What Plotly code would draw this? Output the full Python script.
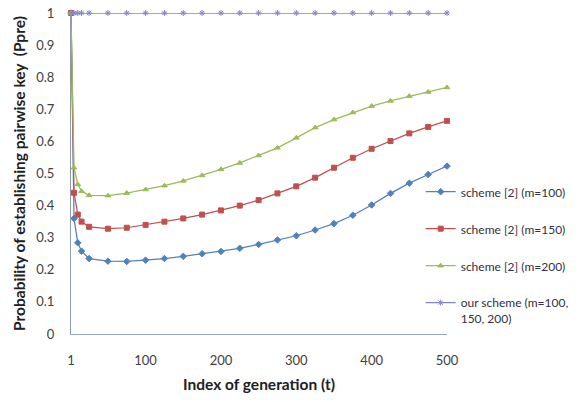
import plotly.graph_objects as go

t_values = [1, 5, 10, 15, 25, 50, 75, 100, 125, 150, 175, 200, 225, 250, 275,
            300, 325, 350, 375, 400, 425, 450, 475, 500]
scheme_m100 = [1.0, 0.36, 0.284, 0.258, 0.235, 0.227, 0.226, 0.23, 0.235, 0.242,
               0.25, 0.257, 0.267, 0.279, 0.293, 0.306, 0.324, 0.344, 0.37, 0.402,
               0.438, 0.47, 0.497, 0.523]
scheme_m150 = [1.0, 0.44, 0.372, 0.35, 0.334, 0.328, 0.331, 0.34, 0.35, 0.36,
               0.372, 0.385, 0.4, 0.417, 0.438, 0.46, 0.487, 0.518, 0.549, 0.577,
               0.601, 0.625, 0.645, 0.664]
scheme_m200 = [1.0, 0.518, 0.466, 0.445, 0.432, 0.431, 0.439, 0.45, 0.462, 0.477,
               0.494, 0.513, 0.533, 0.556, 0.58, 0.611, 0.643, 0.668, 0.69, 0.71,
               0.726, 0.741, 0.754, 0.768]
our_scheme = [1.0, 1.0, 1.0, 1.0, 1.0, 1.0, 1.0, 1.0, 1.0, 1.0, 1.0, 1.0,
              1.0, 1.0, 1.0, 1.0, 1.0, 1.0, 1.0, 1.0, 1.0, 1.0, 1.0, 1.0]

series_names = ["scheme [2] (m=100)", "scheme [2] (m=150)", "scheme [2] (m=200)",
                "our scheme (m=100,<br>150, 200)"]
x_ticks = [1, 100, 200, 300, 400, 500]
y_ticks = [0, 0.1, 0.2, 0.3, 0.4, 0.5, 0.6, 0.7, 0.8, 0.9, 1]
y_ticktext = ["0", "0.1", "0.2", "0.3", "0.4", "0.5", "0.6", "0.7", "0.8", "0.9", "1"]

styles = [
    dict(color="#4F81BD", symbol="diamond", size=5),
    dict(color="#C0504D", symbol="square", size=5),
    dict(color="#9BBB59", symbol="triangle-up", size=5),
    dict(color="#8585C5", symbol="asterisk-open", size=5),
]

fig = go.Figure()
for i, (name, vals) in enumerate(zip(series_names,
                                     [scheme_m100, scheme_m150, scheme_m200, our_scheme])):
    st = styles[i]
    fig.add_trace(go.Scatter(
        x=t_values, y=vals, name=name, mode="lines+markers",
        legendgroup=f"g{i}",
        line=dict(color=st["color"], width=1.25),
        marker=dict(color=st["color"], symbol=st["symbol"], size=st["size"],
                    line=dict(color=st["color"], width=1)),
        cliponaxis=False,
    ))

fig.update_layout(
    width=585, height=402,
    margin=dict(l=71, r=138, t=5, b=68),
    paper_bgcolor="white", plot_bgcolor="white",
    font=dict(family="Lato, Arial, sans-serif", size=13, color="#404040"),
    legend=dict(
        x=0.93, xanchor="left", y=0.488, yanchor="top",
        font=dict(size=12, color="#303040"),
        tracegroupgap=18, valign="top", itemwidth=30,
        bgcolor="rgba(0,0,0,0)",
    ),
    xaxis=dict(
        range=[1, 500], tickvals=x_ticks, ticktext=[str(v) for v in x_ticks],
        showgrid=False, zeroline=False, showline=True, linecolor="#9aa6b8",
        linewidth=1, ticks="", ticklabelstandoff=14, ticklabeloverflow="allow",
        title=dict(text="<b>Index of generation (t)</b>", standoff=12,
                   font=dict(size=15.5, color="#202020")),
        tickfont=dict(size=13, color="#404040"),
    ),
    yaxis=dict(
        range=[0, 1], tickvals=y_ticks, ticktext=y_ticktext,
        showgrid=False, zeroline=False, showline=True, linecolor="#8c9aa8",
        linewidth=1, ticks="", ticklabelstandoff=13, ticklabeloverflow="allow",
        title=dict(text="<b>Probability of establishing pairwise key  (Ppre)</b>",
                   standoff=6, font=dict(size=15.5, color="#202020")),
        tickfont=dict(size=13, color="#404040"),
    ),
)

fig.write_html("out.html", config={"displayModeBar": False},
               post_script="document.body.style.margin='0';")
